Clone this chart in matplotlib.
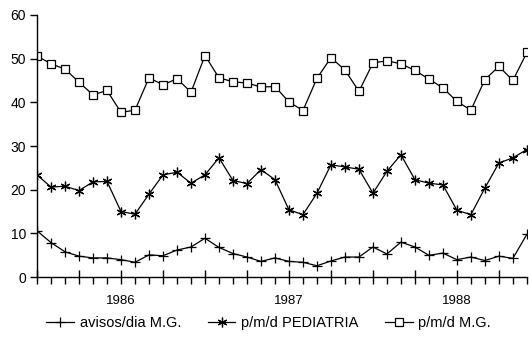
import matplotlib
matplotlib.use("Agg")
import matplotlib.pyplot as plt
from matplotlib.transforms import blended_transform_factory

# monthly series, Jul 1985 - Jun 1988
months = list(range(36))

avisos_mg = [10.6, 7.9, 5.8, 4.8, 4.4, 4.4, 4.0, 3.4, 5.1, 4.9, 6.2, 6.9,
             8.9, 6.8, 5.4, 4.6, 3.6, 4.4, 3.6, 3.4, 2.6, 3.7, 4.6, 4.6,
             6.9, 5.3, 8.0, 6.9, 5.0, 5.5, 4.0, 4.6, 3.8, 4.8, 4.3, 9.8]

pmd_pediatria = [23.4, 20.6, 20.8, 19.8, 21.8, 21.9, 15.0, 14.4, 19.0, 23.4, 24.0, 21.5,
                 23.4, 27.3, 22.1, 21.4, 24.6, 22.3, 15.4, 14.3, 19.2, 25.7, 25.2, 24.7,
                 19.2, 24.2, 28.0, 22.3, 21.5, 21.1, 15.3, 14.3, 20.4, 26.1, 27.3, 29.2]

pmd_mg = [50.6, 48.8, 47.6, 44.6, 41.7, 42.7, 37.7, 38.2, 45.6, 44.0, 45.4, 42.3,
          50.7, 45.6, 44.7, 44.4, 43.5, 43.6, 40.1, 38.1, 45.5, 50.2, 47.4, 42.5,
          49.0, 49.5, 48.8, 47.3, 45.3, 43.3, 40.2, 38.2, 45.2, 48.2, 45.0, 51.4]

year_labels = ["1986", "1987", "1988"]
year_pos = [6, 18, 30]

plt.rcParams['font.family'] = ['Liberation Sans', 'DejaVu Sans']

fig = plt.figure(figsize=(5.29, 3.46), dpi=100)
ax = fig.add_axes([0.070, 0.199, 0.926, 0.758])

ax.plot(months, avisos_mg, color='black', lw=0.9, marker='+', ms=7.5, mew=0.9,
        label='avisos/dia M.G.')
ax.plot(months, pmd_pediatria, color='black', lw=0.9, marker=(6, 2, 0), ms=7, mew=0.9,
        label='p/m/d PEDIATRIA')
ax.plot(months, pmd_mg, color='black', lw=0.9, marker='s', ms=5.5, mew=0.9,
        mfc='white', label='p/m/d M.G.')

ax.set_xlim(0, 35)
ax.set_ylim(0, 60)
ax.set_yticks(range(0, 61, 10))
ax.set_xticks(range(0, 36, 3))
ax.set_xticks(months, minor=True)
ax.set_xticklabels([])

for s in ['top', 'right']:
    ax.spines[s].set_visible(False)
ax.spines['left'].set_linewidth(1.0)
ax.spines['bottom'].set_linewidth(1.0)

ax.tick_params(axis='x', which='major', direction='inout', length=10, width=1.0)
ax.tick_params(axis='x', which='minor', direction='out', length=5, width=1.0)
ax.tick_params(axis='y', direction='out', length=5, width=1.0, labelsize=10, pad=3)

trans = blended_transform_factory(ax.transData, ax.transAxes)
for lab, p in zip(year_labels, year_pos):
    ax.text(p, -0.09, lab, transform=trans, ha='center', va='center', fontsize=9.5)

fig.legend(loc='center', bbox_to_anchor=(0.508, 0.067), ncol=3, frameon=False,
           fontsize=10.5, handlelength=1.9, columnspacing=1.8, handletextpad=0.4)

fig.savefig("out.png", dpi=100)
